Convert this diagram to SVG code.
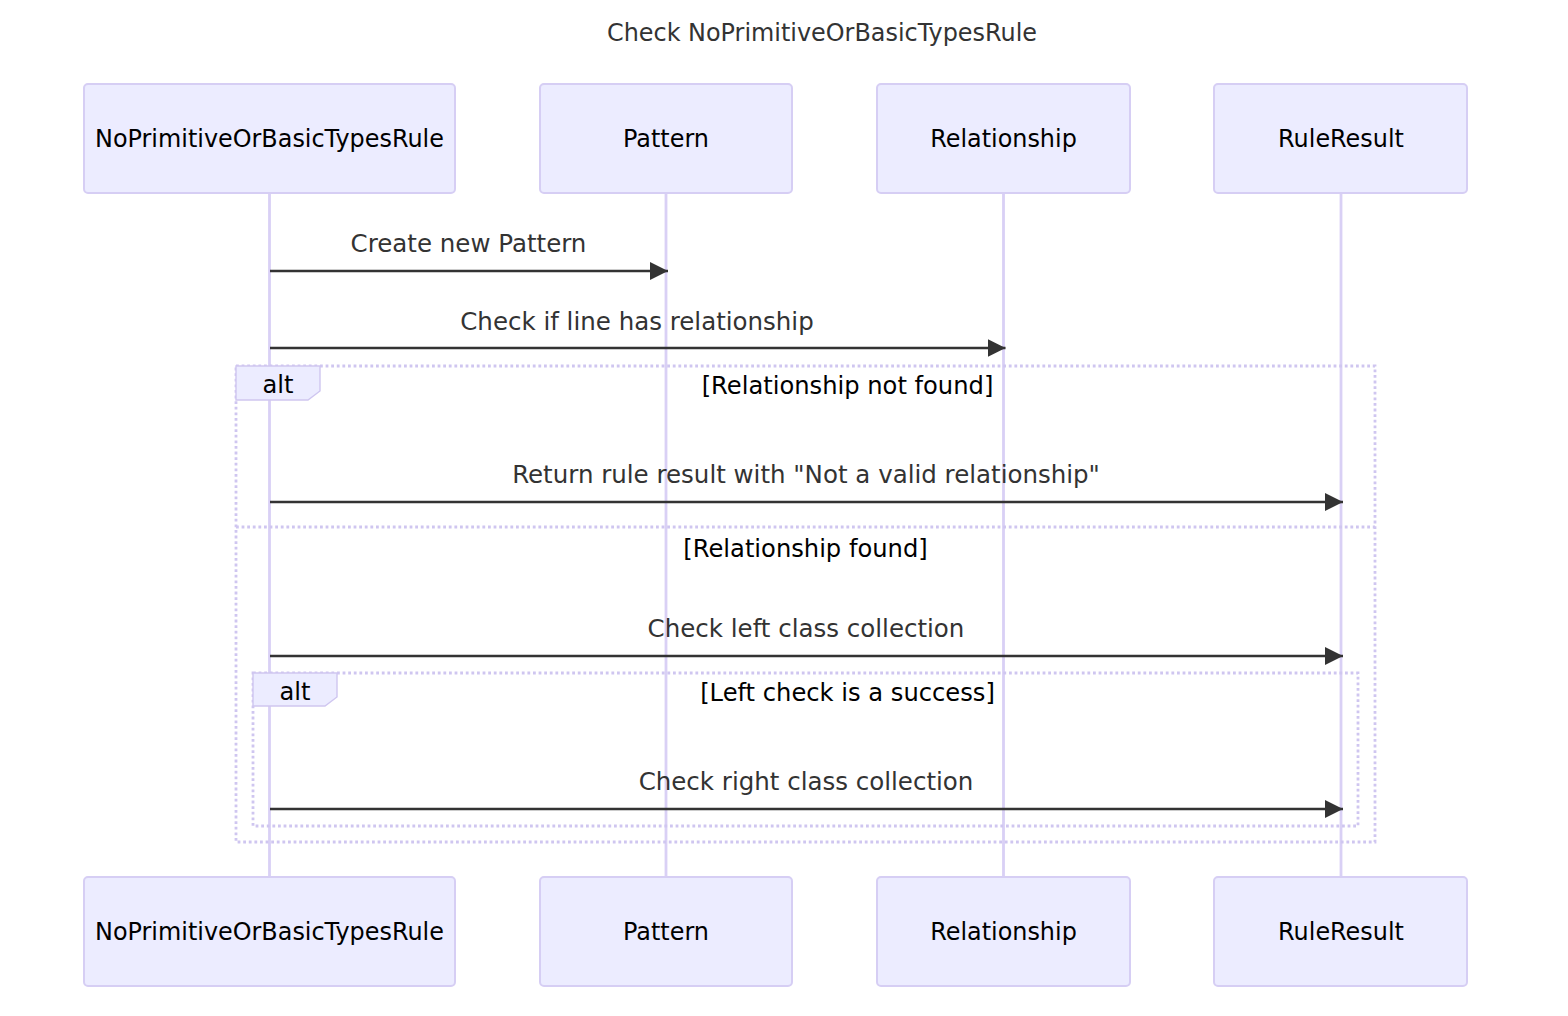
<svg xmlns="http://www.w3.org/2000/svg" width="1568" height="1016" viewBox="0 0 1568 1016">
<style>
.actor{fill:#ECECFF;stroke:#D6CEF4;stroke-width:2}
.atext{font-family:"DejaVu Sans",sans-serif;font-size:23.9px;fill:#000;text-anchor:middle}
.life{stroke:#D9D0F5;stroke-width:2.8;fill:none}
.msg{stroke:#333;stroke-width:2.4;fill:none}
.mtext{font-family:"DejaVu Sans",sans-serif;font-size:24.5px;fill:#333;text-anchor:middle}
.frame{stroke:#CFC6F0;stroke-width:2.8;stroke-dasharray:2.8,2.8;fill:none}
.lbox{fill:#ECECFF;stroke:#CFC6F0;stroke-width:1.4}
.ltext{font-family:"DejaVu Sans",sans-serif;font-size:24.2px;fill:#000;text-anchor:middle}
.title{font-family:"DejaVu Sans",sans-serif;font-size:23.9px;fill:#333;text-anchor:middle}
</style>
<defs>
<marker id="arrow" markerUnits="userSpaceOnUse" markerWidth="20" markerHeight="20" refX="18" refY="9" orient="auto">
<path d="M0,0 L18,9 L0,18 z" fill="#333"/>
</marker>
</defs>
<rect width="1568" height="1016" fill="#fff"/>
<text class="title" x="822" y="41">Check NoPrimitiveOrBasicTypesRule</text>
<g id="lifelines">
<line class="life" x1="269.5" y1="193" x2="269.5" y2="877"/>
<line class="life" x1="666" y1="193" x2="666" y2="877"/>
<line class="life" x1="1003.5" y1="193" x2="1003.5" y2="877"/>
<line class="life" x1="1341" y1="193" x2="1341" y2="877"/>
</g>
<g id="actor-rule-top"><rect class="actor" x="84" y="84" width="371" height="109" rx="4"/><text class="atext" x="269.5" y="147">NoPrimitiveOrBasicTypesRule</text></g>
<g id="actor-pattern-top"><rect class="actor" x="540" y="84" width="252" height="109" rx="4"/><text class="atext" x="666" y="147">Pattern</text></g>
<g id="actor-rel-top"><rect class="actor" x="877" y="84" width="253" height="109" rx="4"/><text class="atext" x="1003.5" y="147">Relationship</text></g>
<g id="actor-result-top"><rect class="actor" x="1214" y="84" width="253" height="109" rx="4"/><text class="atext" x="1341" y="147">RuleResult</text></g>
<g id="actor-rule-bottom"><rect class="actor" x="84" y="877" width="371" height="109" rx="4"/><text class="atext" x="269.5" y="940">NoPrimitiveOrBasicTypesRule</text></g>
<g id="actor-pattern-bottom"><rect class="actor" x="540" y="877" width="252" height="109" rx="4"/><text class="atext" x="666" y="940">Pattern</text></g>
<g id="actor-rel-bottom"><rect class="actor" x="877" y="877" width="253" height="109" rx="4"/><text class="atext" x="1003.5" y="940">Relationship</text></g>
<g id="actor-result-bottom"><rect class="actor" x="1214" y="877" width="253" height="109" rx="4"/><text class="atext" x="1341" y="940">RuleResult</text></g>
<g id="alt-outer">
<rect class="frame" x="236" y="366" width="1139" height="476"/>
<line class="frame" x1="236" y1="527" x2="1375" y2="527"/>
<polygon class="lbox" points="236,366 320,366 320,391 308,400 236,400"/>
<text class="ltext" x="278" y="393">alt</text>
<text class="ltext" x="847.5" y="394">[Relationship not found]</text>
<text class="ltext" x="805.5" y="557">[Relationship found]</text>
</g>
<g id="alt-inner">
<rect class="frame" x="253" y="673" width="1105" height="153"/>
<polygon class="lbox" points="253,673 337,673 337,697 325,706 253,706"/>
<text class="ltext" x="295" y="700">alt</text>
<text class="ltext" x="847.5" y="701">[Left check is a success]</text>
</g>
<g id="connectors">
<line class="msg" x1="270" y1="271" x2="668" y2="271" marker-end="url(#arrow)"/>
<text class="mtext" x="468.5" y="252">Create new Pattern</text>
<line class="msg" x1="270" y1="348" x2="1005.5" y2="348" marker-end="url(#arrow)"/>
<text class="mtext" x="637" y="330">Check if line has relationship</text>
<line class="msg" x1="270" y1="502" x2="1343" y2="502" marker-end="url(#arrow)"/>
<text class="mtext" x="806" y="483">Return rule result with "Not a valid relationship"</text>
<line class="msg" x1="270" y1="656" x2="1343" y2="656" marker-end="url(#arrow)"/>
<text class="mtext" x="806" y="637">Check left class collection</text>
<line class="msg" x1="270" y1="809" x2="1343" y2="809" marker-end="url(#arrow)"/>
<text class="mtext" x="806" y="790">Check right class collection</text>
</g>
</svg>
